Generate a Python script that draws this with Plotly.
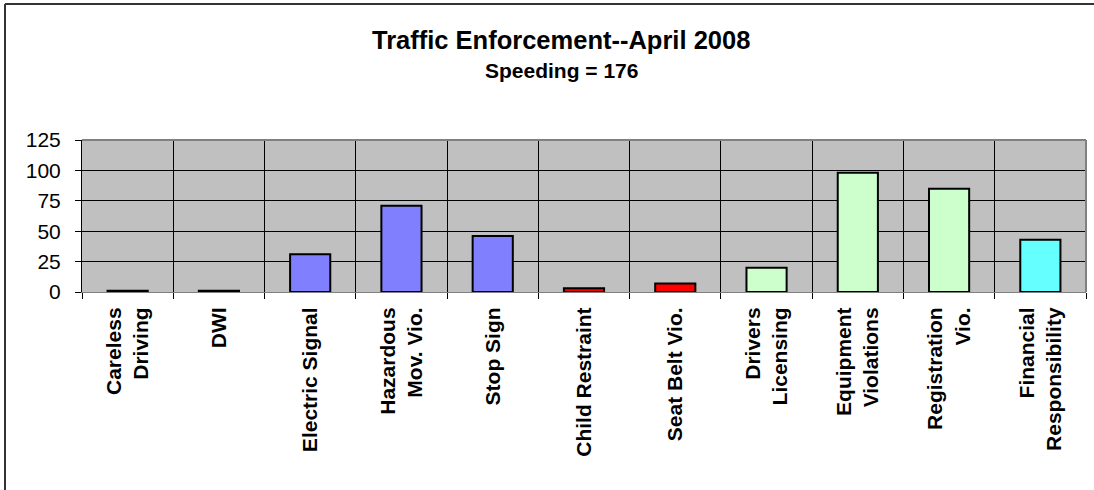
import plotly.graph_objects as go

categories = ["Careless<br>Driving", "DWI", "Electric Signal", "Hazardous<br>Mov. Vio.",
              "Stop Sign", "Child Restraint", "Seat Belt Vio.", "Drivers<br>Licensing",
              "Equipment<br>Violations", "Registration<br>Vio.", "Financial<br>Responsibility"]
values = [1, 1, 31, 71, 46, 3, 7, 20, 98, 85, 43]
bar_colors = ["#000000", "#000000", "#8080FF", "#8080FF", "#8080FF", "#FF0000", "#FF0000",
              "#CCFFCC", "#CCFFCC", "#CCFFCC", "#66FFFF"]
y_ticks = [0, 25, 50, 75, 100, 125]
title_text = "Traffic Enforcement--April 2008"
subtitle_text = "Speeding = 176"

FONT = "Arial, 'Liberation Sans', sans-serif"

fig = go.Figure(go.Bar(
    x=categories, y=values,
    marker=dict(color=bar_colors, line=dict(color="#000000", width=2)),
    hoverinfo="x+y",
))

W, H = 1094, 490
L, R, T, B = 82, 8, 140, 198
ph = H - T - B
pw = W - L - R

def py(px):
    return (H - B - px) / ph

def pxx(px):
    return (px - L) / pw

fig.update_layout(
    width=W, height=H,
    margin=dict(l=L, r=R, t=T, b=B, pad=0),
    paper_bgcolor="white", plot_bgcolor="#C0C0C0",
    showlegend=False, bargap=0.56,
    font=dict(family=FONT, color="black"),
    xaxis=dict(type="category", tickson="boundaries", showgrid=True, gridcolor="#000000",
               gridwidth=1, ticks="outside", ticklen=6, tickcolor="#000000",
               tickangle=-90, tickfont=dict(size=21, family=FONT, weight="bold"),
               showline=True, linecolor="#808080", linewidth=1, ticklabelstandoff=6),
    yaxis=dict(range=[0, 125], tickvals=y_ticks, showgrid=True, gridcolor="#000000",
               gridwidth=1, zeroline=False, ticks="outside", ticklen=6, tickcolor="#000000",
               tickfont=dict(size=21, family=FONT), showline=True, linecolor="#000000",
               linewidth=1, ticklabelstandoff=10),
    annotations=[
        dict(text="<b>" + title_text + "</b>", xref="paper", yref="paper",
             x=pxx(561), y=py(40), xanchor="center", yanchor="middle", showarrow=False,
             font=dict(size=25.5, family=FONT, color="black")),
        dict(text="<b>" + subtitle_text + "</b>", xref="paper", yref="paper",
             x=pxx(561), y=py(70), xanchor="center", yanchor="middle", showarrow=False,
             font=dict(size=21, family=FONT, color="black")),
    ],
    shapes=[
        dict(type="line", xref="paper", yref="paper", x0=0, x1=1, y0=1, y1=1,
             line=dict(color="#808080", width=2)),
        dict(type="line", xref="paper", yref="paper", x0=1, x1=1, y0=0, y1=1,
             line=dict(color="#808080", width=2)),
        dict(type="line", xref="paper", yref="paper", x0=pxx(5), x1=pxx(1100), y0=py(4), y1=py(4),
             line=dict(color="#333333", width=2)),
        dict(type="line", xref="paper", yref="paper", x0=pxx(5), x1=pxx(5), y0=py(4), y1=py(500),
             line=dict(color="#333333", width=2)),
    ],
)

fig.write_html("out.html",
               config={"displayModeBar": False},
               post_script="document.body.style.margin='0';document.body.style.padding='0';"
                           "document.body.style.overflow='hidden';")
